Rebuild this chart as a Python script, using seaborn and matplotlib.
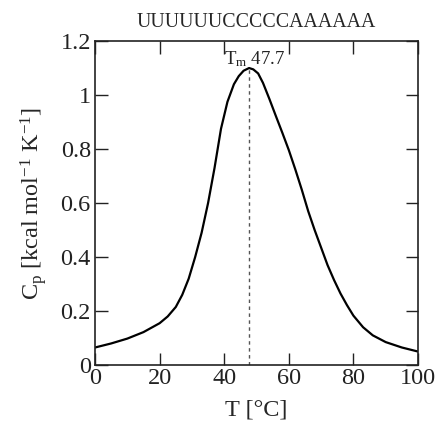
import matplotlib
matplotlib.use("Agg")
import matplotlib.pyplot as plt
import seaborn as sns
import pandas as pd

# melting curve
temp = [0, 5, 10, 15, 20, 22.5, 25, 27, 29, 31, 33, 35, 37, 39, 41, 43, 44.5, 46, 47.7,
        49, 50.5, 52, 54, 56, 58, 60, 62, 64, 66, 68, 70, 72, 74, 76, 78, 80, 83, 86,
        90, 95, 100]
cp = [0.065, 0.08, 0.098, 0.122, 0.155, 0.18, 0.215, 0.26, 0.32, 0.40, 0.49,
      0.60, 0.73, 0.875, 0.975, 1.04, 1.07, 1.09, 1.10, 1.095, 1.08, 1.045, 0.985,
      0.922, 0.86, 0.796, 0.725, 0.65, 0.57, 0.50, 0.435, 0.37, 0.315, 0.265,
      0.222, 0.183, 0.14, 0.11, 0.085, 0.065, 0.05]
tm = 47.7
seq = "UUUUUUCCCCCAAAAAA"
xticks = [0, 20, 40, 60, 80, 100]
yticks = [0, 0.2, 0.4, 0.6, 0.8, 1.0, 1.2]
ytick_labels = ["0", "0.2", "0.4", "0.6", "0.8", "1", "1.2"]

sns.set_style("ticks")
plt.rcParams['font.family'] = ['Liberation Serif', 'DejaVu Serif']
plt.rcParams['mathtext.fontset'] = 'custom'
plt.rcParams['mathtext.rm'] = 'Liberation Serif'
plt.rcParams['mathtext.it'] = 'Liberation Serif:italic'
plt.rcParams['mathtext.default'] = 'rm'

df = pd.DataFrame({'T': temp, 'Cp': cp})

fig = plt.figure(figsize=(4.4, 4.23), dpi=100)
ax = fig.add_axes([0.216, 0.137, 0.734, 0.766])

sns.lineplot(data=df, x='T', y='Cp', ax=ax, color='black', linewidth=1.6)
ax.plot([tm, tm], [0, 1.095], color='#555555', linewidth=1.0, linestyle=(0, (2.5, 2.5)))
ax.text(tm + 1.8, 1.113, r'T$_{\rm m}$ ' + str(tm), ha='center', va='baseline',
        fontsize=13.5, color='#222222')

ax.set_xlim(0, 100)
ax.set_ylim(0, 1.2)
ax.set_xticks(xticks)
ax.set_yticks(yticks)
ax.set_yticklabels(ytick_labels)
ax.tick_params(direction='in', length=9, width=1, top=True, right=True,
               labelsize=17.5, colors='#222222', pad=3)
ax.tick_params(axis='x', pad=2)
for s in ax.spines.values():
    s.set_linewidth(1.2)
    s.set_color('#222222')

ax.set_xlabel('T [°C]', fontsize=17.5, labelpad=8)
ax.set_ylabel(r'C$_{\rm p}$ [kcal mol$^{-1}$ K$^{-1}$]', fontsize=17.5, labelpad=8)
ax.set_title(seq, fontsize=14.3, pad=10)

fig.savefig('out.png', dpi=100)
